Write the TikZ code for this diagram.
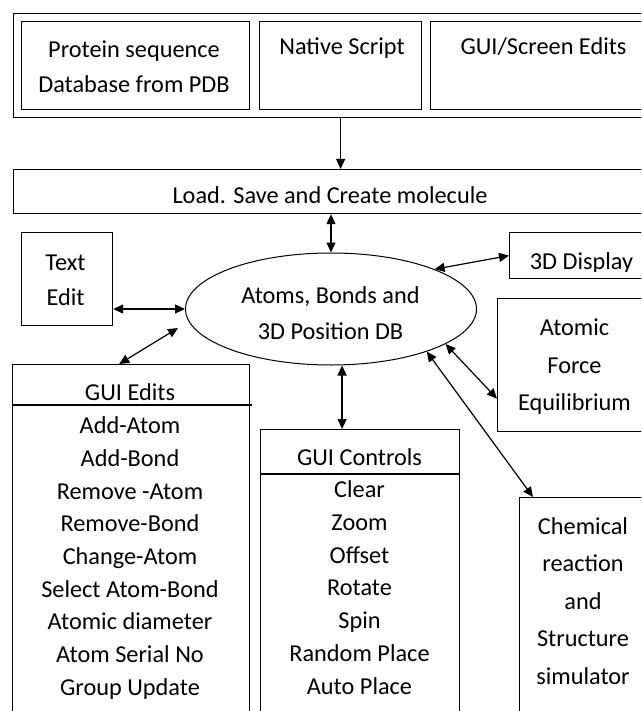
\documentclass[tikz,border=0pt]{standalone}
\usepackage{fontspec}
\setmainfont{Carlito}
\usetikzlibrary{arrows.meta,shapes.geometric,calc}

\begin{document}
\begin{tikzpicture}[x=1pt,y=-1pt,
  >={Triangle[length=10pt,width=9pt]},
  box/.style={draw,line width=1.2pt,rectangle,anchor=north west,inner sep=0pt},
  txt/.style={anchor=base,inner sep=0pt,font=\fontsize{24.3}{29}\selectfont},
  link/.style={line width=1.2pt}]
\useasboundingbox (0,0) rectangle (641,711);
\clip (0,0) rectangle (641,711);

% --- input sources -------------------------------------------------------
\node[box,minimum width=650pt,minimum height=104pt] (src) at (13,13) {};
\node[box,minimum width=228pt,minimum height=88pt] (pdb) at (21,21) {};
\node[box,minimum width=162pt,minimum height=88pt] (nat) at (259,21) {};
\node[box,minimum width=227pt,minimum height=88pt] (scr) at (430,21) {};
\node[txt] (pdb1) at (134,57.2) {Protein sequence};
\node[txt] (pdb2) at (134,92.4) {Database from PDB};
\node[txt] (natT) at (342,54.7) {Native Script};
\node[txt] (scrT) at (543.5,54.7) {GUI/Screen Edits};

% --- load / save ---------------------------------------------------------
\node[box,minimum width=634pt,minimum height=44pt] (load) at (13,169) {};
\node[txt] (loadT) at (330,203.7) {Load. Save and Create molecule};

% --- central database ----------------------------------------------------
\node[ellipse,draw,line width=1pt,minimum width=291pt,minimum height=112pt,inner sep=0pt] (db) at (331,309) {};
\node[txt] (db1) at (330.5,303.7) {Atoms, Bonds and};
\node[txt] (db2) at (330.5,339.7) {3D Position DB};

% --- text edit -----------------------------------------------------------
\node[box,minimum width=91pt,minimum height=93pt] (te) at (21,232) {};
\node[txt] (te1) at (65.5,270.7) {Text};
\node[txt] (te2) at (65.5,305.7) {Edit};

% --- 3D display (label cut off at the bottom of its text area) -----------
\node[box,minimum width=145pt,minimum height=46pt] (d3) at (509,232) {};
\begin{scope}
  \clip (d3.north west) rectangle ($(d3.north east)+(0,39.5)$);
  \node[txt] (d3t) at (581.5,269.7) {3D Display};
\end{scope}

% --- atomic force --------------------------------------------------------
\node[box,minimum width=155pt,minimum height=133pt] (af) at (497,298) {};
\node[txt] (af1) at (574.5,335.7) {Atomic};
\node[txt] (af2) at (574.5,373.7) {Force};
\node[txt] (af3) at (574.5,410.2) {Equilibrium};

% --- GUI edits list ------------------------------------------------------
\node[box,minimum width=237pt,minimum height=400pt] (ge) at (12,364) {};
\draw[line width=1.2pt] ($(ge.north west)+(0,41)$) -- ($(ge.north east)+(2,41)$);
\node[txt] (geH) at (130,400.7) {GUI Edits};
\foreach \t [count=\i from 0] in {Add-Atom,Add-Bond,Remove -Atom,Remove-Bond,
    Change-Atom,Select Atom-Bond,Atomic diameter,Atom Serial No,Group Update}
  \node[txt] (ge-\i) at (130,{433.7+32.7*\i}) {\t};

% --- GUI controls list ---------------------------------------------------
\node[box,minimum width=199pt,minimum height=400pt] (gc) at (260,429) {};
\draw[line width=1.2pt] ($(gc.north west)+(0,45)$) -- ($(gc.north east)+(0,45)$);
\node[txt] (gcH) at (359.5,465.5) {GUI Controls};
\foreach \t [count=\i from 0] in {Clear,Zoom,Offset,Rotate,Spin,Random Place,Auto Place}
  \node[txt] (gc-\i) at (359.5,{497.7+32.75*\i}) {\t};

% --- chemical reaction simulator -----------------------------------------
\node[box,minimum width=128pt,minimum height=260pt] (ch) at (519,497) {};
\foreach \t [count=\i from 0] in {Chemical,reaction,and,Structure,simulator}
  \node[txt] (ch-\i) at (583,{534.2+37.5*\i}) {\t};

% --- connectors ----------------------------------------------------------
\coordinate (geIn) at (178,328);
\coordinate (geOut) at ($(ge.north west)!0.45!(ge.north east)$);
\coordinate (gcIn) at ($(gc.north west)!0.41!(gc.north east)$);
\coordinate (afIn) at ($(af.north west)!0.75!(af.south west)$);
\coordinate (chIn) at ($(ch.north west)+(14,0)$);

\draw[link,->] (src.south -| nat.south) -- (load.north -| nat.south);
\draw[link,<->] (load.south -| db.north) -- (db.north);
\draw[link,<->] (te.east |- db.west) -- (db.west);
\draw[link,<->] (geOut) -- (geIn);
\draw[link,<->] (db.21) -- (d3.west);
\draw[link,<->] (db.-17.5) -- (afIn);
\draw[link,<->] (gcIn |- db.south) -- (gcIn);
\draw[link,<->] (db.-24) -- (chIn);
\end{tikzpicture}
\end{document}
